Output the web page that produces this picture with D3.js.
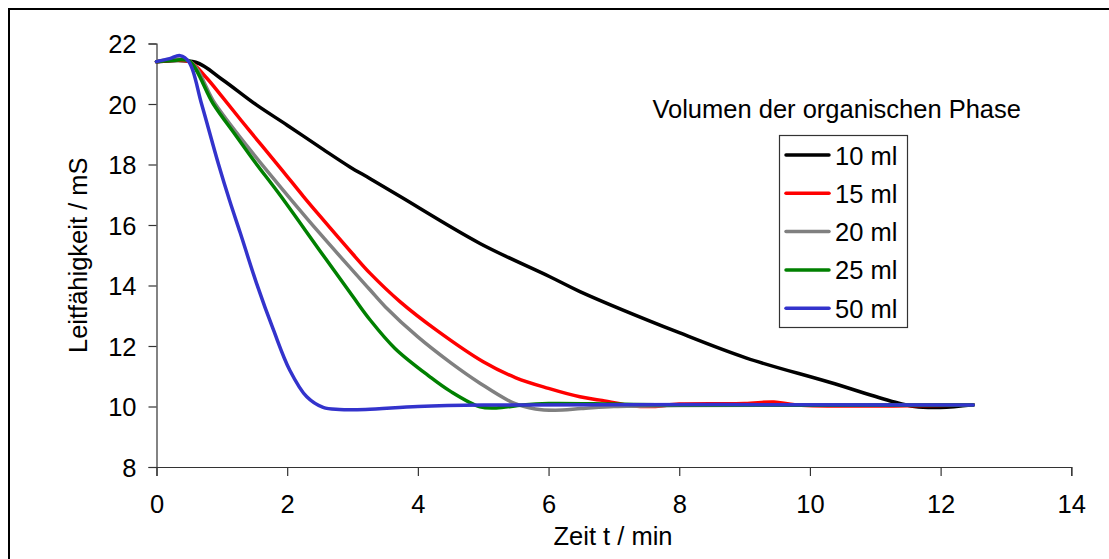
<!DOCTYPE html>
<html>
<head>
<meta charset="utf-8">
<script src="https://cdn.jsdelivr.net/npm/d3@7"></script>
<style>
  html, body { margin: 0; padding: 0; background: #fff; }
  #chart text { font-family: 'Liberation Sans', Arial, sans-serif; fill: #000; }
</style>
</head>
<body>
<div id="chart"></div>
<script>
// time (min) and conductivity (mS)
const t10 = [0, 0.6, 1, 1.53, 2, 2.55, 2.96, 3.27, 3.73, 4.95, 6.02, 6.48, 8.01, 9.03, 10.3, 11.27, 11.6, 12, 12.5]
const v10 = [21.4, 21.38, 20.82, 19.97, 19.3, 18.5, 17.92, 17.53, 16.94, 15.39, 14.29, 13.8, 12.43, 11.6, 10.8, 10.16, 10.0, 9.97, 10.06]

const t15 = [0, 0.5, 0.75, 1, 1.43, 1.89, 2.25, 2.5, 3, 3.27, 3.73, 4.3, 5, 5.5, 6, 6.48, 6.79, 7.3, 7.6, 8, 9, 9.45, 9.8, 12.5]
const v15 = [21.4, 21.4, 20.9, 20.25, 19.1, 17.9, 16.94, 16.3, 15.05, 14.4, 13.46, 12.5, 11.48, 10.95, 10.6, 10.32, 10.21, 10.02, 10.0, 10.08, 10.1, 10.15, 10.05, 10.05]

const t20 = [0, 0.5, 0.9, 1.5, 2.02, 2.5, 3, 3.27, 3.5, 4, 4.5, 4.95, 5.46, 5.8, 6.1, 6.5, 7, 8, 12.5]
const v20 = [21.4, 21.42, 20.0, 18.3, 16.94, 15.72, 14.5, 13.85, 13.3, 12.3, 11.45, 10.77, 10.12, 9.92, 9.88, 9.93, 10.0, 10.03, 10.05]

const t25 = [0, 0.3, 0.5, 0.87, 1.2, 1.5, 1.89, 2.5, 3, 3.27, 3.65, 4.18, 4.5, 4.95, 5.2, 5.6, 6, 7, 8, 12.5]
const v25 = [21.4, 21.45, 21.42, 20.0, 19.0, 18.1, 16.99, 15.15, 13.65, 12.86, 11.92, 10.99, 10.5, 9.99, 9.95, 10.05, 10.1, 10.08, 10.05, 10.05]

const t50 = [0, 0.2, 0.36, 0.5, 0.69, 0.95, 1.12, 1.28, 1.53, 1.79, 2.04, 2.3, 2.55, 2.8, 3.2, 4, 5, 12.5]
const v50 = [21.4, 21.5, 21.6, 21.38, 20.0, 18.0, 16.8, 15.75, 14.08, 12.53, 11.2, 10.32, 9.97, 9.9, 9.9, 10.0, 10.05, 10.05]

const seriesNames = ['10 ml', '15 ml', '20 ml', '25 ml', '50 ml']
const seriesColors = ['#000000', '#ff0000', '#808080', '#008000', '#3333cc']
const seriesTimes = [t10, t15, t20, t25, t50]
const seriesValues = [v10, v15, v20, v25, v50]

const xTicks = [0, 2, 4, 6, 8, 10, 12, 14]
const yTicks = [8, 10, 12, 14, 16, 18, 20, 22]

const legendTitle = 'Volumen der organischen Phase'
const xTitle = 'Zeit t / min'
const yTitle = 'Leitfähigkeit / mS'

// layout
const visW = 1109
const visH = 559
const plotL = 156.5
const plotR = 1071.3
const plotT = 43.5
const plotB = 467
const fontSize = 25.5

const svg = d3.select('#chart')
  .append('svg')
  .attr('width', visW)
  .attr('height', visH)

// outer frame (runs past right and bottom edge)
svg.append('rect')
  .attr('x', 9)
  .attr('y', 9)
  .attr('width', visW + 20)
  .attr('height', visH + 20)
  .style('fill', '#fff')
  .style('stroke', '#000')
  .style('stroke-width', 2)

const x = d3.scaleLinear().domain([0, 14]).range([plotL, plotR])
const y = d3.scaleLinear().domain([8, 22]).range([plotB, plotT])

/* ---------- Axes ---------- */

const xAxis = svg.append('g')
  .attr('transform', 'translate(0,' + plotB + ')')
  .call(d3.axisBottom(x).tickValues(xTicks).tickSize(9).tickPadding(20).tickFormat(d3.format('d')))

const yAxis = svg.append('g')
  .attr('transform', 'translate(' + plotL + ',0)')
  .call(d3.axisLeft(y).tickValues(yTicks).tickSize(8).tickPadding(12).tickFormat(d3.format('d')))

function styleAxis (g) {
  g.select('.domain').style('stroke', '#333').style('stroke-width', 1.2)
  g.selectAll('.tick line').style('stroke', '#333').style('stroke-width', 1.2)
  g.selectAll('.tick text')
    .style('font-size', fontSize + 'px')
    .attr('font-family', null)
}
styleAxis(xAxis)
styleAxis(yAxis)
xAxis.selectAll('.tick text').attr('dy', '0.68em')
yAxis.selectAll('.tick text').attr('dy', '0.36em')

svg.append('text')
  .attr('x', 613)
  .attr('y', 545)
  .attr('text-anchor', 'middle')
  .style('font-size', fontSize + 'px')
  .text(xTitle)

svg.append('text')
  .attr('transform', 'translate(87,' + (plotT + plotB) / 2 + ') rotate(-90)')
  .attr('text-anchor', 'middle')
  .style('font-size', fontSize + 'px')
  .text(yTitle)

/* ---------- Curves ---------- */

const line = d3.line()
  .x(d => x(d[0]))
  .y(d => y(d[1]))
  .curve(d3.curveCatmullRom.alpha(0.5))

for (let i = 0; i < seriesNames.length; i++) {
  const pts = seriesTimes[i].map((t, j) => [t, seriesValues[i][j]])
  svg.append('path')
    .datum(pts)
    .attr('d', line)
    .style('fill', 'none')
    .style('stroke', seriesColors[i])
    .style('stroke-width', 3.5)
    .style('stroke-linejoin', 'round')
    .style('stroke-linecap', 'round')
}

/* ---------- Legend ---------- */

svg.append('text')
  .attr('x', 1021)
  .attr('y', 118)
  .attr('text-anchor', 'end')
  .style('font-size', fontSize + 'px')
  .text(legendTitle)

const legX = 779.5
const legY = 135.5
const legStep = 38.3

svg.append('rect')
  .attr('x', legX)
  .attr('y', legY)
  .attr('width', 128)
  .attr('height', 192)
  .style('fill', '#fff')
  .style('stroke', '#333')
  .style('stroke-width', 1.2)

for (let i = 0; i < seriesNames.length; i++) {
  const cy = 155 + i * legStep
  svg.append('line')
    .attr('x1', 786)
    .attr('x2', 829)
    .attr('y1', cy)
    .attr('y2', cy)
    .style('stroke', seriesColors[i])
    .style('stroke-width', 3.5)
    .style('stroke-linecap', 'round')
  svg.append('text')
    .attr('x', 835)
    .attr('y', cy + 9.5)
    .style('font-size', fontSize + 'px')
    .text(seriesNames[i])
}
</script>
</body>
</html>
